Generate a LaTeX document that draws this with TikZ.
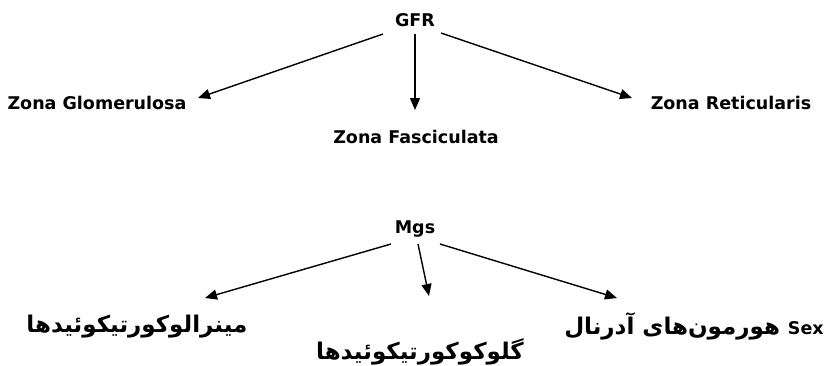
\documentclass[tikz,border=0pt]{standalone}
\usepackage{fontspec}
\setmainfont{DejaVu Sans}
\newfontfamily\arabicfont[Script=Arabic]{DejaVu Sans}
\TeXXeTstate=1
\usetikzlibrary{arrows.meta}
\newcommand\latinsize{\fontsize{17.5}{20}\selectfont\bfseries}
\begin{document}
\begin{tikzpicture}[x=1pt,y=-1pt,
  lbl/.style={font=\latinsize, inner sep=0pt},
  fa/.style={font=\arabicfont\fontsize{23}{26}\selectfont\bfseries, inner sep=0pt},
  arr/.style={line width=1.4pt, -{Triangle[length=12pt,width=10pt]}}]
  \useasboundingbox (0,0) rectangle (840,365);
  % top tree
  \node[lbl] (gfr) at (415,20) {GFR};
  \node[lbl] (zg) at (97,103) {Zona Glomerulosa};
  \node[lbl] (zf) at (416,137) {Zona Fasciculata};
  \node[lbl] (zr) at (731,103) {Zona Reticularis};
  \coordinate (gl) at (383,34);
  \coordinate (gr) at (441,33);
  \coordinate (gm) at (415,34);
  \coordinate (tl) at (198,98);
  \coordinate (tm) at (415,110);
  \coordinate (tr) at (632,98);
  \draw[arr] (gl) -- (tl);
  \draw[arr] (gm) -- (tm);
  \draw[arr] (gr) -- (tr);
  % bottom tree
  \node[lbl] (mgs) at (415,229) {Mgs};
  \node[fa] (mi) at (137,327) {\beginR مینرالوکورتیکوئیدها\endR};
  \node[fa] (gl2) at (420,352) {\beginR گلوکوکورتیکوئیدها\endR};
  \node[fa] (sx) at (694,326) {\beginR\beginL{\latinsize Sex}\endL{} هورمون‌های آدرنال\endR};
  \coordinate (ml) at (391,244);
  \coordinate (mm) at (418,244);
  \coordinate (mr) at (440,244);
  \coordinate (bl) at (205,298);
  \coordinate (bm) at (429,296);
  \coordinate (br) at (617,298);
  \draw[arr] (ml) -- (bl);
  \draw[arr] (mm) -- (bm);
  \draw[arr] (mr) -- (br);
\end{tikzpicture}
\end{document}
